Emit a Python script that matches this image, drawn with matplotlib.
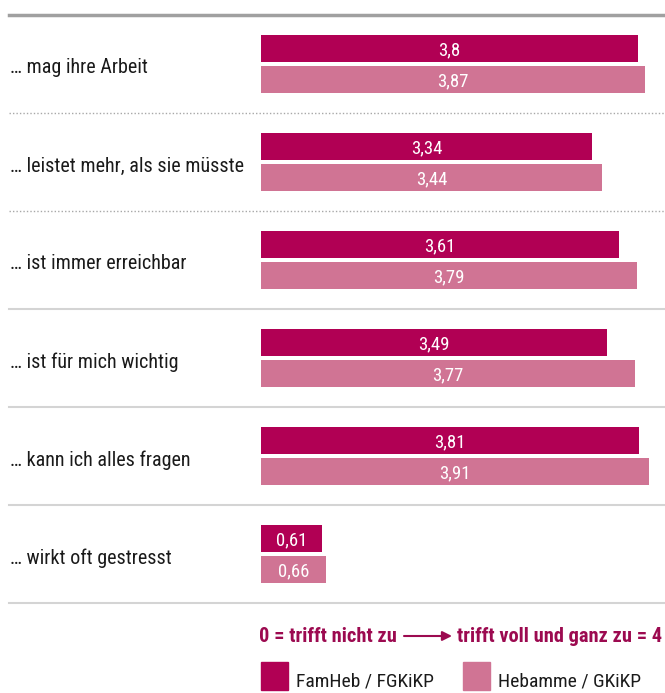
import numpy as np
import matplotlib.pyplot as plt
from matplotlib.patches import Rectangle

# Daten
aussagen = ["… mag ihre Arbeit", "… leistet mehr, als sie müsste", "… ist immer erreichbar",
            "… ist für mich wichtig", "… kann ich alles fragen", "… wirkt oft gestresst"]
famheb = [3.8, 3.34, 3.61, 3.49, 3.81, 0.61]
hebamme = [3.87, 3.44, 3.79, 3.77, 3.91, 0.66]
serien = ["FamHeb / FGKiKP", "Hebamme / GKiKP"]
trenner = ["dotted", "dotted", "solid", "solid", "solid", "solid"]

DUNKEL = "#b10054"
HELL = "#d07494"
TEXTFARBE = "#9c0a50"
plt.rcParams["font.family"] = ["Roboto Condensed", "Roboto", "DejaVu Sans"]

W, H = 665, 693
fig = plt.figure(figsize=(W / 100, H / 100), dpi=100)

# Achse: x von Pixel 261 bis 665, y von Pixel 15 bis 603
ax = fig.add_axes([261 / W, 1 - 603 / H, (665 - 261) / W, (603 - 15) / H])
ax.set_xlim(0, 404 / 99.2)
ax.set_ylim(5.5, -0.5)
ax.axis("off")

y = np.arange(len(aussagen))
ax.barh(y - 0.16, famheb, height=0.276, color=DUNKEL)
ax.barh(y + 0.16, hebamme, height=0.276, color=HELL)

for i, (a, b) in enumerate(zip(famheb, hebamme)):
    ax.text(a / 2, i - 0.14, f"{a:g}".replace(".", ","), color="white", ha="center",
            va="center", fontsize=13.5)
    ax.text(b / 2, i + 0.18, f"{b:g}".replace(".", ","), color="white", ha="center",
            va="center", fontsize=13.5)
    ax.text(-251 / 99.2, i + 0.04, aussagen[i], ha="left", va="center", fontsize=14.5,
            color="#1a1a1a")

x0 = (9 - 261) / 404
ax.axhline(-0.5, xmin=x0, xmax=1, color="#a0a0a0", lw=2.5, clip_on=False)
for i, stil in enumerate(trenner):
    if stil == "dotted":
        ax.axhline(i + 0.5, xmin=x0, xmax=1, color="#a8a8a8", lw=1, ls=(0, (1, 1.5)), clip_on=False)
    else:
        ax.axhline(i + 0.5, xmin=x0, xmax=1, color="#d4d4d4", lw=1.5, clip_on=False)

# Skala-Hinweis
fig.text(259 / W, 1 - 636 / H, "0 = trifft nicht zu", color=TEXTFARBE, fontsize=14.7,
         fontweight="bold", ha="left", va="center")
fig.text(662 / W, 1 - 636 / H, "trifft voll und ganz zu = 4", color=TEXTFARBE, fontsize=14.7,
         fontweight="bold", ha="right", va="center")
fig.add_artist(plt.Annotation("", xy=(452 / W, 1 - 636 / H), xytext=(404 / W, 1 - 636 / H),
                              xycoords="figure fraction", textcoords="figure fraction",
                              arrowprops=dict(arrowstyle="-|>", color=TEXTFARBE, lw=1.5,
                                              mutation_scale=14, shrinkA=0, shrinkB=0)))

# Legende
for px, farbe, name in [(261, DUNKEL, serien[0]), (463, HELL, serien[1])]:
    fig.add_artist(Rectangle((px / W, 1 - 690 / H), 27 / W, 28 / H, color=farbe,
                             transform=fig.transFigure))
    fig.text((px + 35) / W, 1 - 681 / H, name, fontsize=14, ha="left", va="center",
             color="#1a1a1a")

fig.savefig("out.png", dpi=100)
